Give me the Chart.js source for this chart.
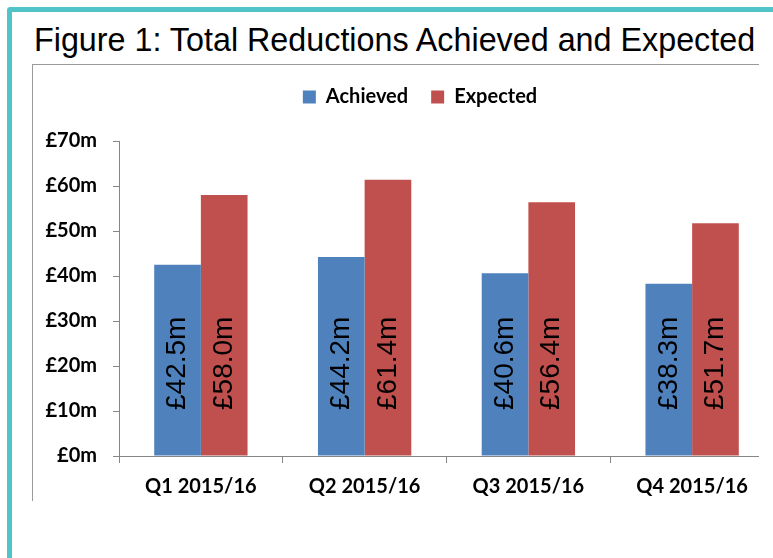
<!DOCTYPE html>
<html lang="en">
<head>
  <meta charset="UTF-8">
  <title>Figure 1: Total Reductions Achieved and Expected</title>
  <script src="https://cdn.jsdelivr.net/npm/chart.js"></script>
  <style>
    html, body { margin: 0; padding: 0; overflow: hidden; background: #fff; }
    #teal { position: absolute; left: 7px; top: 7px; width: 766px; height: 551px;
            border-left: 5px solid #50c4c8; border-top: 5px solid #50c4c8; border-top-left-radius: 4px; }
    #frame { position: absolute; left: 32px; top: 64px; width: 726px; height: 436px;
             border-left: 1px solid #9a9a9a; border-top: 1px solid #9a9a9a; }
    #title { position: absolute; left: 34px; top: 24px; font: 32.3px 'Liberation Sans', Arial, sans-serif;
             line-height: 32px; color: #000; white-space: nowrap; }
    #wrap { position: absolute; left: 0; top: 0; width: 775px; height: 558px; }
  </style>
</head>
<body>
  <div id="teal"></div>
  <div id="frame"></div>
  <div id="title">Figure 1: Total Reductions Achieved and Expected</div>
  <div id="wrap">
    <canvas id="barChart"></canvas>
  </div>

  <script>
    const categories = ['Q1 2015/16', 'Q2 2015/16', 'Q3 2015/16', 'Q4 2015/16'];
    const achieved = [42.5, 44.2, 40.6, 38.3];
    const expected = [58.0, 61.4, 56.4, 51.7];
    const yTickLabels = ['£0m', '£10m', '£20m', '£30m', '£40m', '£50m', '£60m', '£70m'];

    const axisGrey = '#868686';
    const boldFont = { family: 'Lato', size: 20, weight: 'bold' };

    // rotated value labels inside the bars, starting a bit above the base
    const barLabels = {
      id: 'barLabels',
      afterLayout(chart) {
        // legend sits a little right of the canvas centre in the original
        chart.legend.left += 13;
        chart.legend.right += 13;
      },
      afterDatasetsDraw(chart) {
        const ctx = chart.ctx;
        const base = chart.scales.y.getPixelForValue(0);
        ctx.save();
        ctx.font = '28px "Liberation Sans", Arial, sans-serif';
        ctx.fillStyle = '#000';
        ctx.textAlign = 'left';
        ctx.textBaseline = 'middle';
        chart.data.datasets.forEach((ds, i) => {
          chart.getDatasetMeta(i).data.forEach((bar, j) => {
            ctx.save();
            ctx.translate(bar.x, base - 46);
            ctx.rotate(-Math.PI / 2);
            ctx.fillText('£' + ds.data[j].toFixed(1) + 'm', 0, 0);
            ctx.restore();
          });
        });
        ctx.restore();
      },
      afterDraw(chart) {
        // the picture is cropped just right of the frame line
        const b = chart.chartArea.bottom;
        chart.ctx.clearRect(759, b - 2, 30, 12);
      }
    };

    const data = {
      labels: categories,
      datasets: [
        { label: 'Achieved', data: achieved, backgroundColor: '#4f81bd', xAxisID: 'x', yAxisID: 'y' },
        { label: 'Expected', data: expected, backgroundColor: '#c0504d', xAxisID: 'x', yAxisID: 'y' }
      ]
    };

    const config = {
      type: 'bar',
      data: data,
      options: {
        responsive: true,
        maintainAspectRatio: false,
        animation: false,
        categoryPercentage: 0.57,
        barPercentage: 1,
        layout: { padding: { top: 64, left: 40, right: 1, bottom: 0 } },
        plugins: {
          title: { display: false },
          tooltip: { enabled: false },
          legend: {
            position: 'top',
            labels: {
              boxWidth: 13,
              boxHeight: 13,
              padding: 23,
              color: '#000',
              font: boldFont
            }
          }
        },
        scales: {
          x: {
            position: 'bottom',
            grid: { drawOnChartArea: false, offset: true, tickLength: 7, color: axisGrey },
            border: { color: axisGrey },
            ticks: { color: '#000', font: boldFont, padding: 12, maxRotation: 0 },
            afterFit: s => { s.height = 102; }
          },
          y: {
            min: 0,
            max: 70,
            grid: { drawOnChartArea: false, tickLength: 6, color: axisGrey },
            border: { color: axisGrey },
            ticks: {
              stepSize: 10,
              color: '#000',
              font: boldFont,
              padding: 16,
              callback: (v, i) => yTickLabels[i]
            },
            afterFit: s => { s.width = 79; }
          },
          // empty spacer between legend and plot area
          xTop: {
            type: 'linear',
            position: 'top',
            grid: { display: false },
            border: { display: false },
            ticks: { display: false },
            afterFit: s => { s.height = 24; }
          }
        }
      },
      plugins: [barLabels]
    };

    new Chart(document.getElementById('barChart'), config);
  </script>
</body>
</html>
